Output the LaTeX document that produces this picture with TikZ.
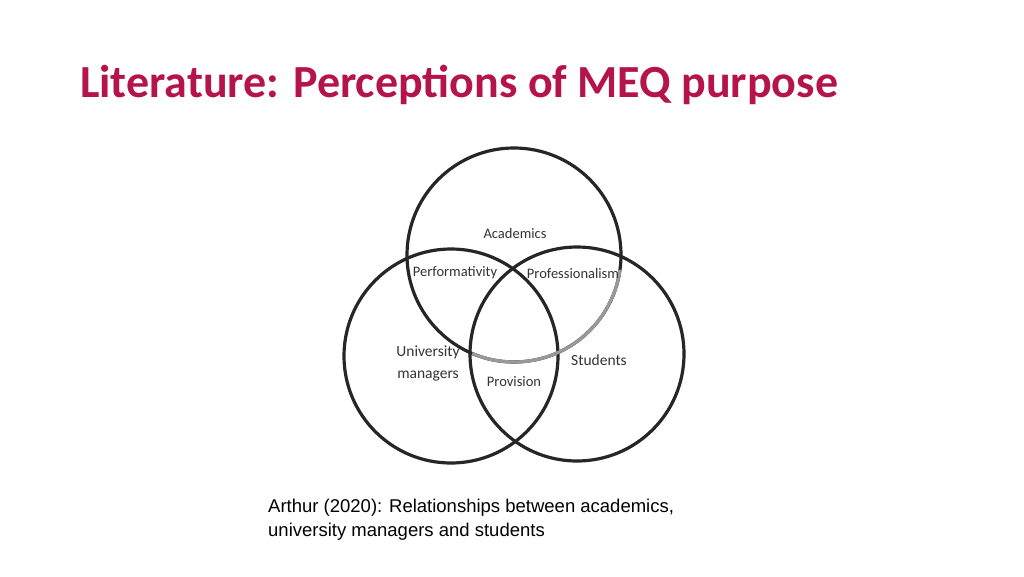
\documentclass[tikz,border=0pt]{standalone}
\usepackage{fontspec}
\setmainfont{Carlito}
\newfontfamily\capfont{Liberation Sans}
\begin{document}
\begin{tikzpicture}[x=1pt,y=-1pt,
  circ/.style={draw=black!85,line width=3.2pt},
  lbl/.style={font=\fontsize{14.5}{18}\selectfont,text=black!80,align=center}]
\useasboundingbox[fill=white] (0,0) rectangle (1024,576);
\definecolor{titlec}{HTML}{B5134B}
\node[anchor=west,text=titlec,font=\fontsize{46}{52}\selectfont\bfseries,inner sep=0pt] (title) at (80,85) {Literature: Percep\kern0pttions of MEQ purpose};
\draw[circ] (514,255) circle (107);
\draw[circ] (451,356) circle (107);
\draw[circ] (577,354) circle (107);
\draw[draw=black!40,line width=3.2pt] (514,255) ++(8:107) arc (8:113:107);
\node[lbl] (ac) at (515,234) {Academics};
\node[lbl] (pe) at (455,273) {Performa\kern0pttivity};
\node[lbl] (pr) at (573,274) {Professionalism};
\node[lbl,font=\fontsize{15.5}{22}\selectfont] (um) at (428,363) {University\\managers};
\node[lbl,font=\fontsize{15.5}{18}\selectfont] (st) at (599,360) {Students};
\node[lbl] (pv) at (514,382) {Provision};
\node[anchor=north west,align=left,inner sep=0pt,font=\capfont\fontsize{18.5}{24}\selectfont] (cap) at (268,499) {Arthur (2020): Relationships between academics,\\university managers and students};
\end{tikzpicture}
\end{document}
